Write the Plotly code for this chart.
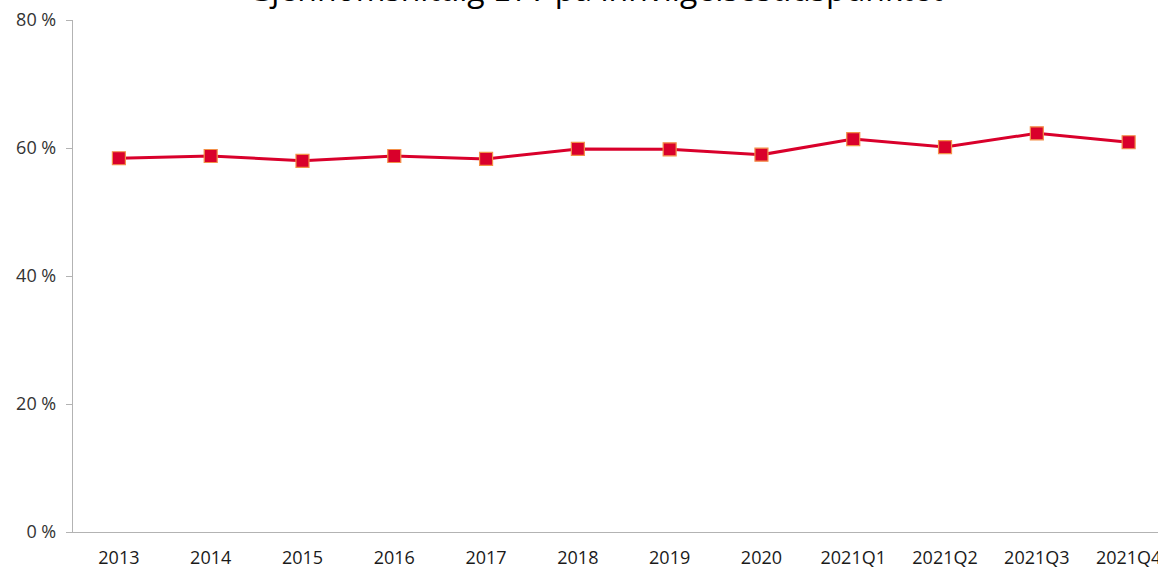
import plotly.graph_objects as go

categories = ["2013", "2014", "2015", "2016", "2017", "2018", "2019", "2020",
              "2021Q1", "2021Q2", "2021Q3", "2021Q4"]
ltv = [58.4, 58.75, 58.0, 58.75, 58.3, 59.85, 59.8, 58.95, 61.4, 60.15, 62.3, 60.9]
y_ticks = [0, 20, 40, 60, 80]
y_tick_labels = ["0 %", "20 %", "40 %", "60 %", "80 %"]
title_text = "Gjennomsnittlig LTV på innvilgelsestidspunktet"

W, H = 1158, 568
ml, mr, mt, mb = 73, 0, 20, 36

fig = go.Figure()
fig.add_trace(go.Scatter(
    x=list(range(len(categories))), y=ltv, mode="lines+markers",
    line=dict(color="#d9002b", width=3),
    marker=dict(symbol="square", size=13, color="#d9002b",
                line=dict(color="#f39049", width=1.2)),
    showlegend=False, cliponaxis=False,
))

fig.update_layout(
    width=W, height=H,
    margin=dict(l=ml, r=mr, t=mt, b=mb, pad=0, autoexpand=False),
    paper_bgcolor="white", plot_bgcolor="white",
    font=dict(family="Open Sans", color="#404040", size=17),
    xaxis=dict(
        range=[-0.5, 11.32], tickmode="array", automargin=False,
        tickvals=list(range(len(categories))), ticktext=categories,
        ticklabeloverflow="allow", ticklabelstandoff=9,
        showgrid=False, zeroline=False, showline=True, linecolor="#b3b3b3",
        linewidth=1.3, ticks="", tickfont=dict(size=18, color="#1a1a1a"),
    ),
    yaxis=dict(
        range=[0, 80], tickmode="array", tickvals=y_ticks, ticktext=y_tick_labels,
        automargin=False, ticklabelstandoff=6,
        showgrid=False, zeroline=False, showline=True, linecolor="#b3b3b3",
        linewidth=1.3, ticks="outside", ticklen=6, tickcolor="#b3b3b3",
        tickfont=dict(size=18, color="#333333"),
    ),
    annotations=[dict(
        text=title_text, xref="paper", yref="paper",
        x=(595 - ml) / (W - ml - mr), y=1 + (mt - 12) / (H - mt - mb),
        xanchor="center", yanchor="bottom", showarrow=False,
        font=dict(family="Open Sans", size=32, color="#000000"),
    )],
)

fig.write_html("out.html", config={"displayModeBar": False},
               post_script="document.body.style.margin='0';")
